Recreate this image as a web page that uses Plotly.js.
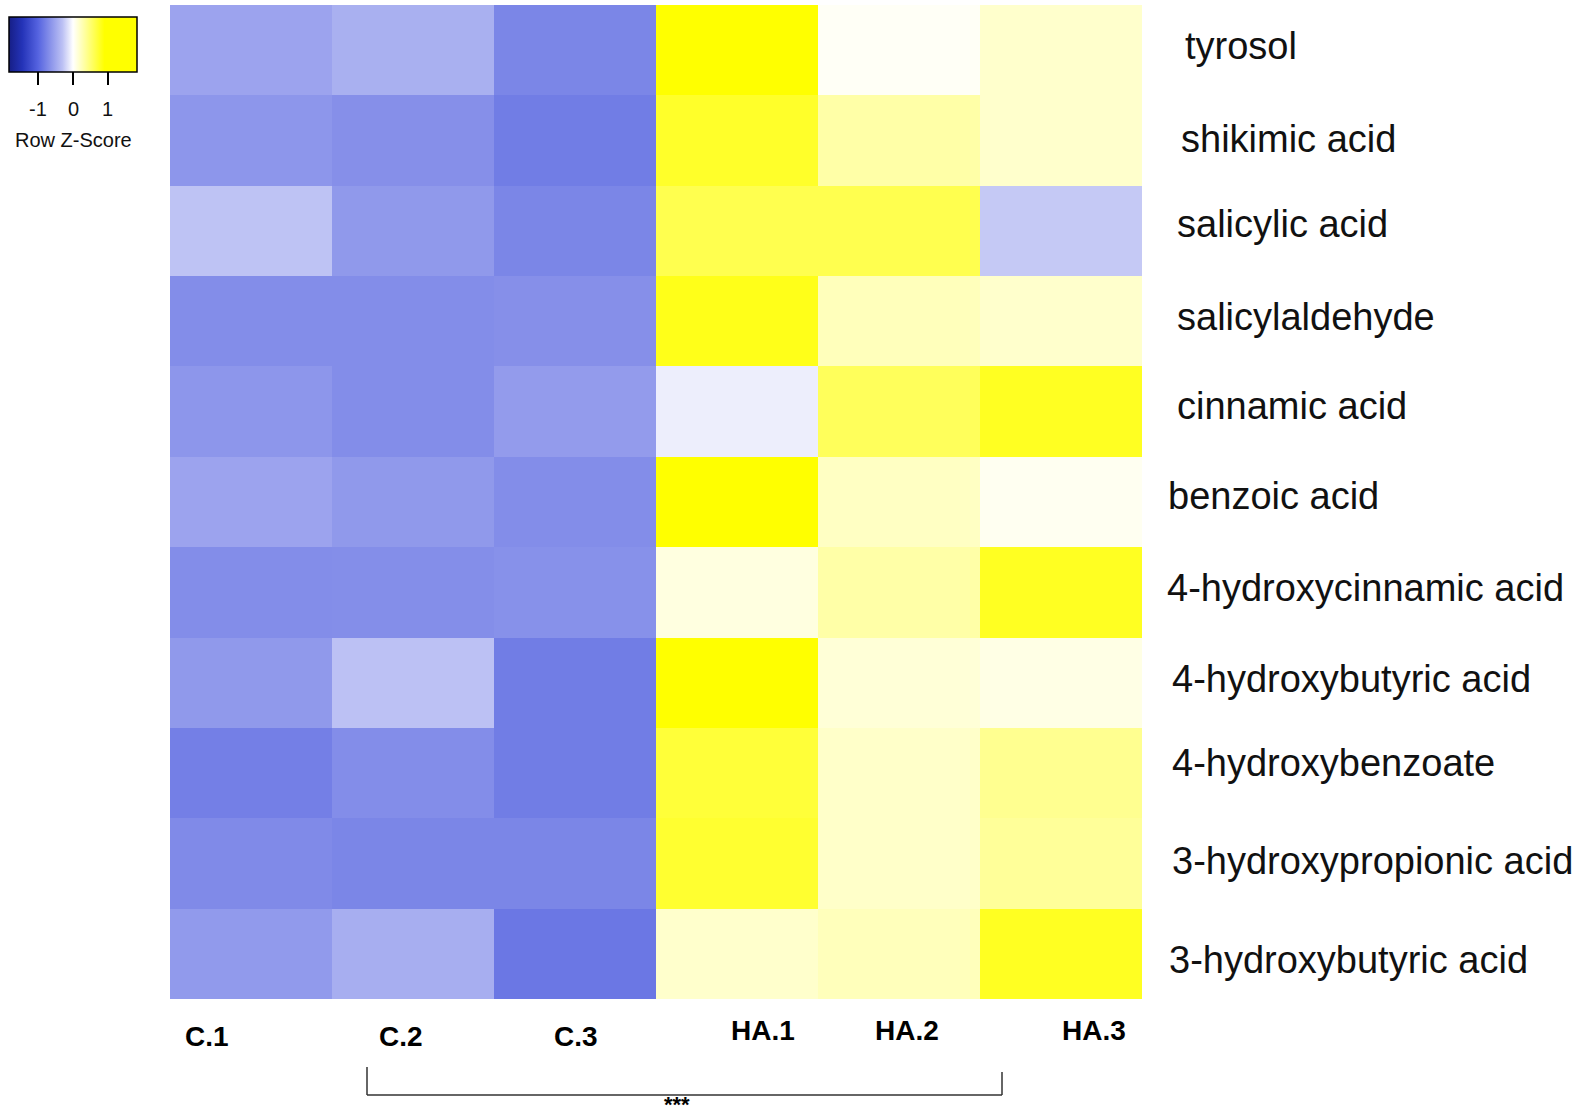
<!DOCTYPE html>
<html>
<head>
<meta charset="utf-8">
<script src="https://cdn.plot.ly/plotly-3.0.1.min.js"></script>
<style>html,body{margin:0;padding:0;background:#fff;}#chart{width:1595px;height:1118px;}</style>
</head>
<body>
<div id="chart"></div>
<script>
// Row (metabolite) names, top to bottom
const metabolites = ['tyrosol','shikimic acid','salicylic acid','salicylaldehyde','cinnamic acid','benzoic acid',
  '4-hydroxycinnamic acid','4-hydroxybutyric acid','4-hydroxybenzoate','3-hydroxypropionic acid','3-hydroxybutyric acid'];
// Sample names, left to right
const samples = ['C.1','C.2','C.3','HA.1','HA.2','HA.3'];
// Row Z-scores, one array per sample (same order as metabolites)
const C1  = [-0.52,-0.62,-0.29,-0.69,-0.62,-0.52,-0.69,-0.60,-0.79,-0.71,-0.59];
const C2  = [-0.43,-0.67,-0.60,-0.69,-0.69,-0.60,-0.68,-0.30,-0.69,-0.74,-0.44];
const C3  = [-0.74,-0.81,-0.74,-0.67,-0.58,-0.69,-0.66,-0.81,-0.81,-0.74,-0.85];
const HA1 = [ 1.48, 0.75, 0.62, 0.81,-0.08, 1.55, 0.11, 1.48, 0.70, 0.73, 0.18];
const HA2 = [ 0.03, 0.31, 0.62, 0.24, 0.58, 0.21, 0.31, 0.14, 0.19, 0.19, 0.24];
const HA3 = [ 0.18, 0.18,-0.26, 0.18, 0.78, 0.05, 0.78, 0.09, 0.39, 0.36, 0.78];
// Colour key
const keyTicks = [-1, 0, 1];
const keyTitle = 'Row Z-Score';
const keyMin = -1.83, keyMax = 1.83;
const significance = '***';

const cols = [C1, C2, C3, HA1, HA2, HA3];
const z = metabolites.map((m, i) => cols.map(c => c[i]));

const FONT = '"Liberation Sans", Arial, sans-serif';
const W = 1595, H = 1118;
const L = 170, R = 1142, T = 5, B = 999;
const px = x => (x - L) / (R - L);
const py = y => (B - y) / (B - T);

// colour key geometry (pixels)
const keyCx = 73, keyLen = 128, keyTop = 17, keyThick = 55;

const trace = {
  type: 'heatmap', x: samples, y: metabolites, z: z,
  zmin: keyMin, zmax: keyMax,
  colorscale: [
    [0, '#161e86'], [0.1038, '#2433b8'], [0.2268, '#5563e0'], [0.418, '#bcc1f4'],
    [0.5, '#ffffff'], [0.7459, '#ffff00'], [1, '#ffff00']
  ],
  hoverinfo: 'skip',
  colorbar: {
    orientation: 'h', xref: 'paper', yref: 'paper',
    x: px(keyCx), xanchor: 'center', y: py(keyTop), yanchor: 'top',
    len: keyLen, lenmode: 'pixels', thickness: keyThick, thicknessmode: 'pixels',
    xpad: 0, ypad: 0,
    outlinewidth: 1.5, outlinecolor: '#000',
    tickvals: keyTicks, showticklabels: false,
    ticks: 'outside', ticklen: 13, tickwidth: 1.5, tickcolor: '#000',
    title: {text: ''}
  }
};

// label nudges (pixels) to match original placement
const rowXShift = [41,37,33,33,33,24,23,28,28,28,25];
const rowYShift = [4,2,7,4,6,6,4,4,10,2,-6];
const colXShift = [-44,-12,1,26,8,33];
const colYShift = [-37,-37,-37,-31,-31,-31];

const annotations = [];
metabolites.forEach((m, i) => annotations.push({
  text: m, xref: 'paper', x: 1, yref: 'y', y: m, xanchor: 'left', yanchor: 'middle',
  xshift: rowXShift[i], yshift: rowYShift[i], showarrow: false,
  font: {family: FONT, size: 38, color: '#111'}
}));
samples.forEach((s, i) => annotations.push({
  text: '<b>' + s + '</b>', xref: 'x', x: s, yref: 'paper', y: 0, xanchor: 'center', yanchor: 'middle',
  xshift: colXShift[i], yshift: colYShift[i], showarrow: false,
  font: {family: FONT, size: 28, color: '#000'}
}));
// colour key tick labels and title
keyTicks.forEach(v => annotations.push({
  text: String(v), xref: 'paper', yref: 'paper',
  x: px(keyCx + (v - (keyMin + keyMax) / 2) / (keyMax - keyMin) * keyLen), y: py(109),
  xanchor: 'center', yanchor: 'middle', showarrow: false,
  font: {family: FONT, size: 20, color: '#111'}
}));
annotations.push({
  text: keyTitle, xref: 'paper', yref: 'paper', x: px(keyCx), y: py(140),
  xanchor: 'center', yanchor: 'middle', showarrow: false,
  font: {family: FONT, size: 20, color: '#111'}
});
annotations.push({
  text: '<b>' + significance + '</b>', xref: 'paper', x: px(677), yref: 'paper', y: py(1117.5),
  xanchor: 'center', yanchor: 'bottom', showarrow: false, borderpad: 0,
  font: {family: FONT, size: 22, color: '#000'}
});

const lineStyle = {color: '#333', width: 1.5};
const shapes = [
  {type: 'line', xref: 'paper', yref: 'paper', x0: px(367), x1: px(367), y0: py(1067), y1: py(1095), line: lineStyle},
  {type: 'line', xref: 'paper', yref: 'paper', x0: px(367), x1: px(1002), y0: py(1095), y1: py(1095), line: lineStyle},
  {type: 'line', xref: 'paper', yref: 'paper', x0: px(1002), x1: px(1002), y0: py(1072), y1: py(1095), line: lineStyle}
];

const layout = {
  width: W, height: H,
  margin: {l: L, r: W - R, t: T, b: H - B, autoexpand: false},
  paper_bgcolor: '#fff', plot_bgcolor: '#fff',
  font: {family: FONT},
  xaxis: {showticklabels: false, ticks: '', showgrid: false, zeroline: false, showline: false, fixedrange: true},
  yaxis: {showticklabels: false, ticks: '', showgrid: false, zeroline: false, showline: false, autorange: 'reversed', fixedrange: true},
  annotations: annotations,
  shapes: shapes
};

Plotly.newPlot('chart', [trace], layout, {staticPlot: true, displayModeBar: false});
</script>
</body>
</html>
